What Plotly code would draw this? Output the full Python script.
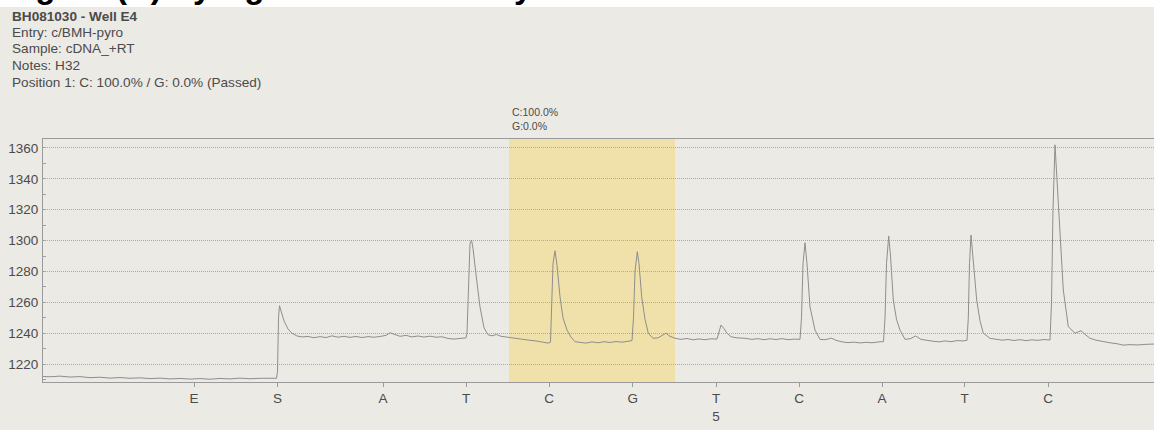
import plotly.graph_objects as go

# ---- pyrogram signal (time units, light units) ----
time_units = [
    0, 7, 17, 27, 37, 47, 57, 67, 77, 87, 97, 107, 117, 127, 137, 147, 157, 167, 177, 187,
    197, 207, 217, 227, 233.5,
    234.5, 235.5, 236.5, 238, 241, 245, 249, 254, 259, 265, 271, 277, 283, 289, 295, 301,
    307, 313, 319, 325, 331, 337, 343, 347, 351, 357, 363, 369, 375, 381, 387, 393, 399,
    405, 411, 417, 423,
    424, 425.5, 427, 428.5, 430, 433, 437, 441, 445, 449, 453.5, 458, 463, 469, 475, 481,
    487, 493, 499, 505, 507.5,
    508.5, 510, 512, 514, 517, 520, 524, 528, 532, 537, 543, 549, 555, 561, 567, 573, 579,
    585, 589,
    590.5, 592, 594.3, 596, 598.7, 602, 605.3, 610, 615, 619, 623, 627, 632, 638, 644, 650,
    656, 662, 668, 674,
    676, 678, 681, 684, 688, 694, 702, 709, 715, 721, 727, 733, 739, 745, 751, 757,
    758.5, 760, 762, 764, 767, 772, 777, 782, 788.7, 793, 799, 805, 811, 817, 823, 829,
    835, 840.5,
    842, 843.5, 845.7, 847.5, 850.3, 853.5, 857, 862, 867, 872.7, 878, 884, 890, 896, 902,
    908, 914, 920, 924,
    925.3, 926.5, 928, 930, 933.7, 937, 940.3, 947, 953, 959, 965, 971, 977, 983, 989, 995,
    1001, 1007,
    1008.5, 1010, 1012, 1014, 1017, 1020.3, 1025.3, 1029, 1032, 1035, 1038, 1042, 1047,
    1053, 1060, 1067, 1074, 1080, 1087, 1095, 1103, 1111,
]
light_units = [
    1212.0, 1211.8, 1212.2, 1211.6, 1211.9, 1211.2, 1211.5, 1210.9, 1211.3, 1210.8, 1211.1,
    1210.6, 1210.9, 1210.4, 1210.7, 1210.3, 1210.6, 1210.2, 1210.7, 1210.4, 1210.9, 1210.5,
    1210.8, 1210.6, 1210.8,
    1215.0, 1250.0, 1257.8, 1255.0, 1248.0, 1242.7, 1240.0, 1238.2, 1237.6, 1237.9, 1237.1,
    1237.8, 1237.2, 1238.3, 1237.4, 1238.0, 1237.3, 1237.9, 1237.2, 1237.8, 1237.4, 1237.9,
    1238.6, 1240.3, 1239.2, 1238.0, 1238.6, 1237.6, 1238.2, 1237.5, 1238.1, 1237.4, 1237.7,
    1236.6, 1236.2, 1236.8, 1237.0,
    1240.0, 1275.0, 1298.0, 1300.4, 1295.0, 1278.0, 1257.0, 1243.5, 1239.0, 1238.3, 1239.2,
    1238.0, 1237.5, 1237.0, 1236.3, 1236.0, 1235.4, 1235.0, 1234.2, 1233.6, 1234.2,
    1250.0, 1285.0, 1293.4, 1284.0, 1263.6, 1250.0, 1242.0, 1237.5, 1234.5, 1234.2, 1233.6,
    1234.4, 1233.8, 1234.5, 1234.0, 1234.6, 1234.2, 1234.8, 1235.2,
    1250.0, 1280.0, 1292.8, 1285.0, 1263.6, 1249.0, 1240.0, 1236.7, 1237.0, 1238.5, 1240.0,
    1238.0, 1236.7, 1236.0, 1236.6, 1235.7, 1236.3, 1235.8, 1236.4, 1236.2,
    1241.0, 1245.3, 1243.0, 1240.0, 1237.7, 1237.0, 1236.7, 1236.0, 1236.5, 1235.8, 1236.4,
    1235.9, 1236.5, 1235.8, 1236.2, 1236.0,
    1250.0, 1285.0, 1298.6, 1285.0, 1257.0, 1242.0, 1236.0, 1235.8, 1236.8, 1235.4, 1234.4,
    1233.9, 1234.2, 1233.7, 1234.1, 1233.8, 1234.3, 1234.6,
    1250.0, 1285.0, 1303.0, 1290.0, 1261.5, 1249.0, 1242.0, 1236.0, 1236.4, 1238.2, 1236.0,
    1235.2, 1234.8, 1234.4, 1235.0, 1234.5, 1235.2, 1235.0, 1235.4,
    1250.0, 1285.0, 1303.6, 1290.0, 1261.5, 1248.0, 1240.0, 1236.7, 1236.0, 1235.5, 1235.9,
    1235.3, 1235.8, 1235.2, 1235.7, 1235.4, 1235.9, 1235.6,
    1260.0, 1320.0, 1362.0, 1340.0, 1300.4, 1268.0, 1244.2, 1241.5, 1240.0, 1240.8, 1241.6,
    1239.3, 1236.7, 1235.5, 1234.5, 1233.8, 1233.2, 1232.3, 1232.6, 1232.4, 1232.8, 1233.0,
]

# ---- dispensation order ----
dispensation_labels = ["E", "S", "A", "T", "C", "G", "T<br>5", "C", "A", "T", "C"]
dispensation_times = [151, 234.5, 340, 423, 506, 589.7, 673, 756, 839, 921.6, 1005]

# ---- analysed variable position ----
position_window = [466, 632]
position_result = ["C:100.0%", "G:0.0%"]

header_lines = [
    "<b>BH081030 - Well E4</b>",
    "Entry: c/BMH-pyro",
    "Sample: cDNA_+RT",
    "Notes: H32",
    "Position 1: C: 100.0% / G: 0.0% (Passed)",
]
figure_caption = "Figure (A) Pyrogram from healthy control"

y_ticks = [1220, 1240, 1260, 1280, 1300, 1320, 1340, 1360]

# ---- page geometry (pixels) ----
W, H = 1154, 430
ML, MR, MT, MB = 43, 0, 139, 48
PW, PH = W - ML - MR, H - MT - MB


def px_x(px):
    return (px - ML) / PW


def px_y(py):
    return (H - MB - py) / PH


PAPER = "#ebeae5"
FONT = "Liberation Sans, Arial, sans-serif"
TEXT = "#4b4b4b"

fig = go.Figure()

fig.add_trace(go.Scatter(
    x=time_units, y=light_units, mode="lines",
    line=dict(color="#8e8e8e", width=1),
    hoverinfo="skip", showlegend=False,
))

shapes = [
    # highlighted dispensations of the analysed position
    dict(type="rect", xref="x", yref="paper", x0=position_window[0], x1=position_window[1],
         y0=0, y1=1, fillcolor="#efe1a9", line=dict(width=0), layer="between"),
    # white strip at the top of the page
    dict(type="rect", xref="paper", yref="paper", x0=px_x(0), x1=px_x(W),
         y0=px_y(7), y1=px_y(-5), fillcolor="white", line=dict(width=0), layer="above"),
]

annotations = []
for i, line in enumerate(header_lines):
    annotations.append(dict(
        xref="paper", yref="paper", x=px_x(10), y=px_y(16 + i * 16.5),
        xanchor="left", yanchor="middle", showarrow=False, text=line,
        font=dict(family=FONT, size=13.6, color=TEXT),
    ))

annotations.append(dict(
    xref="x", yref="paper", x=position_window[0] + 1, y=px_y(119),
    xanchor="left", yanchor="middle", showarrow=False,
    text="<br>".join(position_result), align="left",
    font=dict(family=FONT, size=10.5, color=TEXT),
))

annotations.append(dict(
    xref="paper", yref="paper", x=px_x(4), y=px_y(7),
    xanchor="left", yanchor="bottom", showarrow=False, text="<b>" + figure_caption + "</b>",
    font=dict(family=FONT, size=33, color="black"),
))

fig.update_layout(
    width=W, height=H,
    margin=dict(l=ML, r=MR, t=MT, b=MB, pad=0),
    paper_bgcolor=PAPER, plot_bgcolor="rgba(0,0,0,0)",
    shapes=shapes, annotations=annotations,
    xaxis=dict(
        range=[0, PW], tickmode="array", tickvals=dispensation_times,
        ticktext=dispensation_labels, ticks="outside", ticklen=4, tickcolor="#9a9a9a",
        tickfont=dict(family=FONT, size=13.5, color=TEXT),
        showgrid=False, zeroline=False,
        showline=True, linecolor="#9a9a9a", linewidth=1, mirror=True,
    ),
    yaxis=dict(
        range=[1208.4, 1365.8], tickmode="array", tickvals=y_ticks,
        ticks="", ticklabelstandoff=1,
        tickfont=dict(family=FONT, size=13.5, color=TEXT),
        showgrid=True, gridcolor="#a9a9a6", gridwidth=1, griddash="1px,1px",
        minor=dict(dtick=10, ticks="inside", ticklen=3, tickcolor="#a0a0a0", showgrid=False),
        zeroline=False, showline=True, linecolor="#9a9a9a", linewidth=1,
    ),
    font=dict(family=FONT),
)

fig.write_html("out.html")
